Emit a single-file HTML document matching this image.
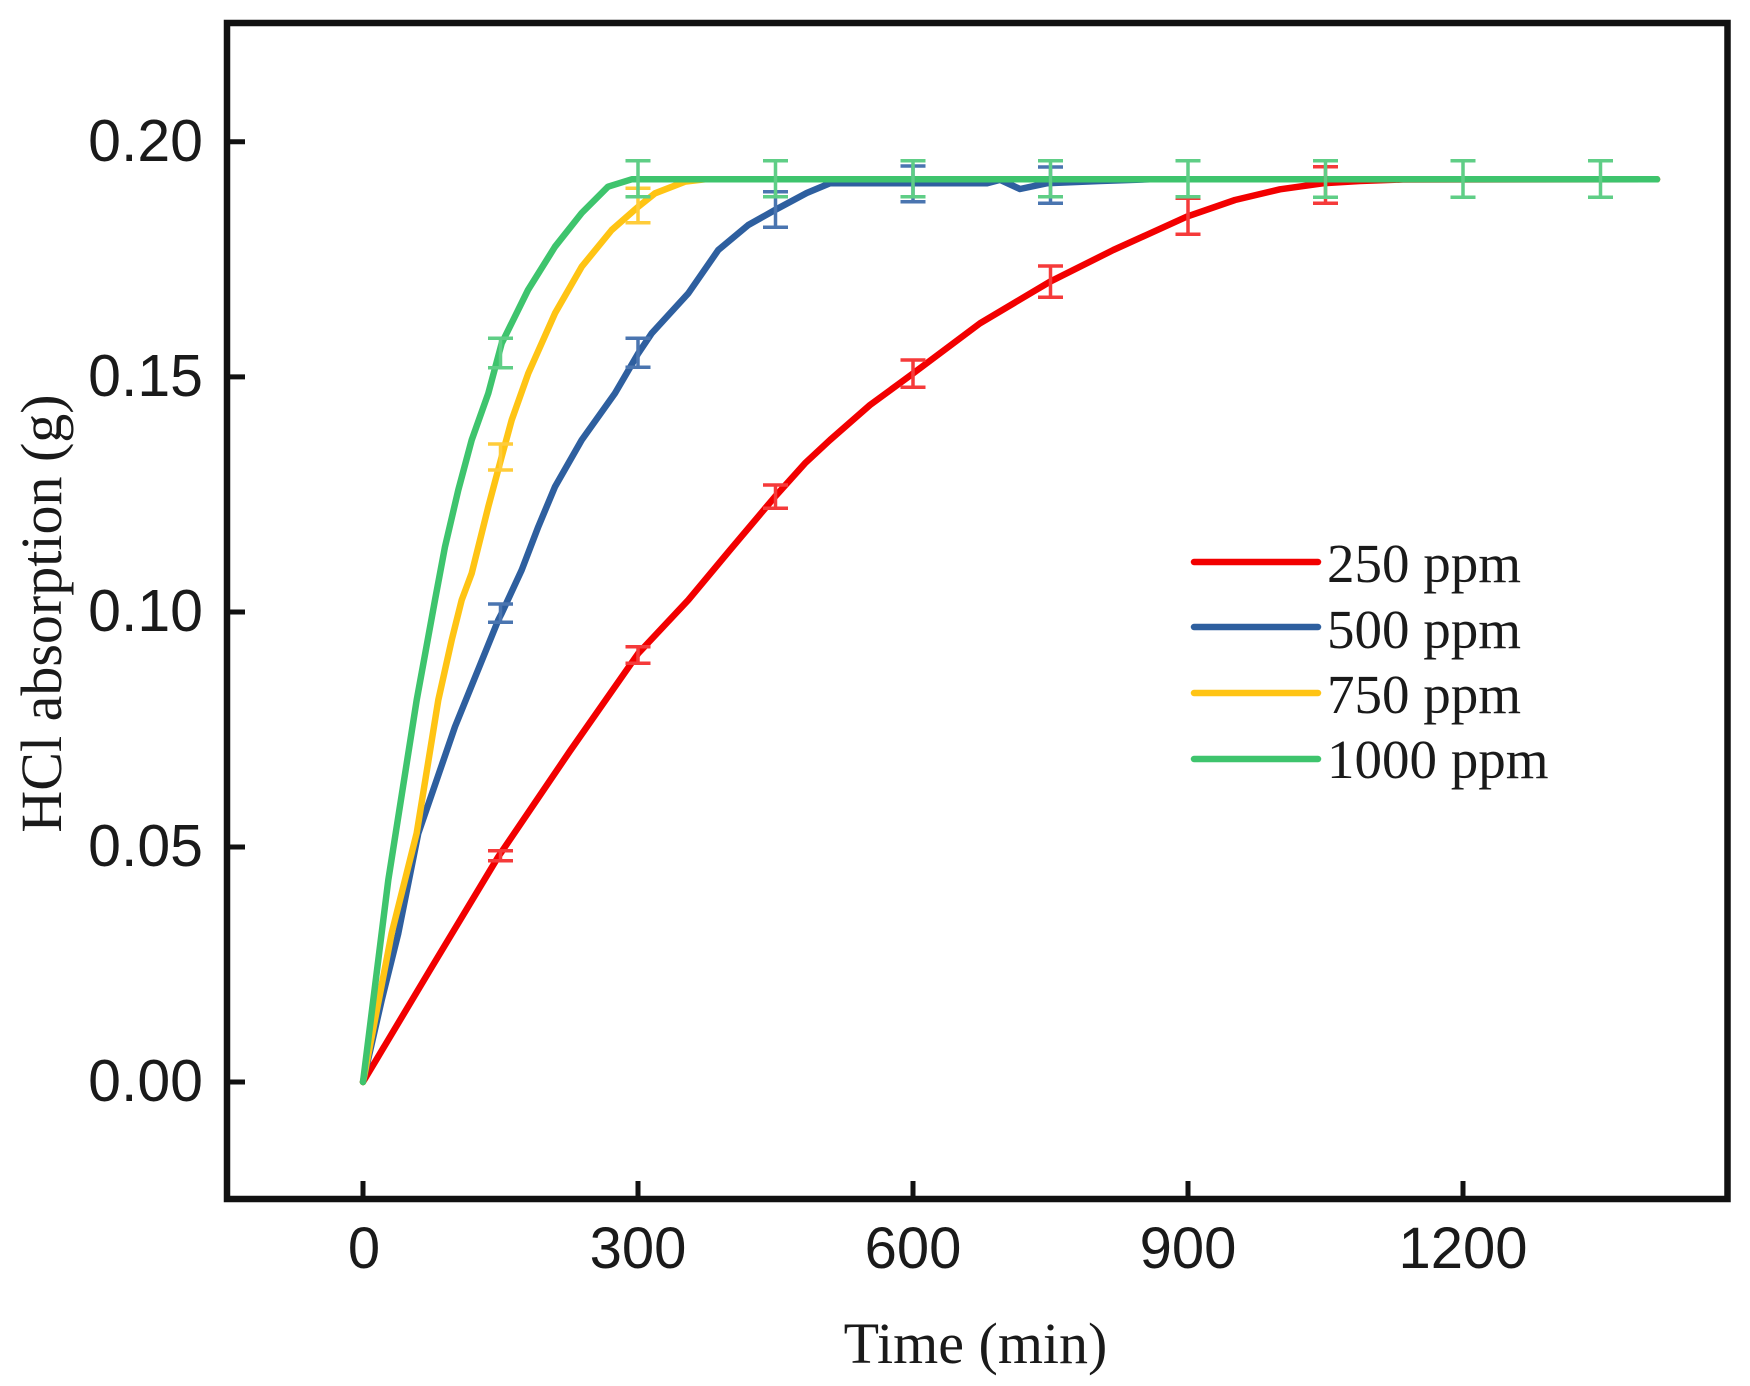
<!DOCTYPE html>
<html>
<head>
<meta charset="utf-8">
<style>
html,body{margin:0;padding:0;background:#fff;}
svg{display:block;}
</style>
</head>
<body>
<svg width="1750" height="1386" viewBox="0 0 1750 1386" xmlns="http://www.w3.org/2000/svg">
<rect x="0" y="0" width="1750" height="1386" fill="#fff"/>

<!-- curves -->
<g fill="none" stroke-width="6.5" stroke-linejoin="round" stroke-linecap="round">
  <polyline stroke="#f20000" points="363,1082 430,970 498.3,856.7 570,751 638.3,653.3 688.3,600 730,550 775,496.7 805,463.3 830,440 870,405 913.3,373.3 980,323.3 1050,281.7 1113.3,250 1186.7,216.7 1235,200 1280,189.3 1323,183.3 1360,181 1403,179.5 1657,179.3"/>
  <polyline stroke="#2e5f9f" points="363,1082 381.7,1000 398.3,933.3 418.3,833.3 455,726.7 498.3,620 501.7,613.3 521.7,570 538.3,526.7 555,486.7 581.7,440 615,393.3 638.3,353.3 651.7,333.3 688.3,293.3 718.3,250 748.3,225 775,210 806.7,193 830,183.3 986.7,183.3 1000,179.8 1020,189 1046.7,183.3 1100,181 1150,179.3 1657,179.3"/>
  <polyline stroke="#ffc414" points="363,1082 391.7,933 416.7,833 438.3,700 451.7,640 461.7,600 471.7,573.3 488.3,506.7 501.7,456.7 511.7,420 528.3,373.3 555,313.3 581.7,266.7 611.7,230 638.3,206.7 655,193.3 685,181.7 705,179.3 1657,179.3"/>
  <polyline stroke="#3ec46d" points="363,1082 388.3,880 416.7,700 435,600 445,546.7 458.3,490 471.7,440 488.3,393.3 501.7,343.3 528,290 555,246.7 581.7,213 608,186.7 631.7,179.3 1657,179.3"/>
</g>

<!-- error bars -->
<g fill="none" stroke-width="3.5">
  <g stroke="#f53a3a">
    <path d="M500.5,850.7V860.7M488,850.7H513M488,860.7H513"/>
    <path d="M638,646.7V663.3M625.5,646.7H650.5M625.5,663.3H650.5"/>
    <path d="M775.5,485V508.3M763,485H788M763,508.3H788"/>
    <path d="M913,360V387.3M900.5,360H925.5M900.5,387.3H925.5"/>
    <path d="M1050.5,266V297.3M1038,266H1063M1038,297.3H1063"/>
    <path d="M1188,198.3V234.3M1175.5,198.3H1200.5M1175.5,234.3H1200.5"/>
    <path d="M1325.5,166.7V203.3M1313,166.7H1338M1313,203.3H1338"/>
  </g>
  <g stroke="#4a75b0">
    <path d="M500.5,604V622.3M488,604H513M488,622.3H513"/>
    <path d="M638,338.3V367.3M625.5,338.3H650.5M625.5,367.3H650.5"/>
    <path d="M775.5,191.7V227.3M763,191.7H788M763,227.3H788"/>
    <path d="M913,166V201.7M900.5,166H925.5M900.5,201.7H925.5"/>
    <path d="M1050.5,167V203.3M1038,167H1063M1038,203.3H1063"/>
  </g>
  <g stroke="#ffcc3a">
    <path d="M500.5,444V470M488,444H513M488,470H513"/>
    <path d="M638,188.3V222.7M625.5,188.3H650.5M625.5,222.7H650.5"/>
  </g>
  <g stroke="#5fce86">
    <path d="M500.5,338.3V367.7M488,338.3H513M488,367.7H513"/>
    <path d="M638,160.7V196.7M625.5,160.7H650.5M625.5,196.7H650.5"/>
    <path d="M775.5,160.7V196.7M763,160.7H788M763,196.7H788"/>
    <path d="M913,160.7V196.7M900.5,160.7H925.5M900.5,196.7H925.5"/>
    <path d="M1050.5,160.7V196.7M1038,160.7H1063M1038,196.7H1063"/>
    <path d="M1188,160.7V196.7M1175.5,160.7H1200.5M1175.5,196.7H1200.5"/>
    <path d="M1325.5,160.7V197.3M1313,160.7H1338M1313,197.3H1338"/>
    <path d="M1463,160.7V197.3M1450.5,160.7H1475.5M1450.5,197.3H1475.5"/>
    <path d="M1600.5,160.7V197.3M1588,160.7H1613M1588,197.3H1613"/>
  </g>
</g>

<!-- axes box -->
<rect x="227" y="23" width="1500.5" height="1176" fill="none" stroke="#111" stroke-width="6.5"/>

<!-- ticks -->
<g stroke="#111" stroke-width="5">
  <path d="M227,141.7H245M227,376.9H245M227,612H245M227,847H245M227,1082H245"/>
  <path d="M363,1199V1181M638,1199V1181M913,1199V1181M1188,1199V1181M1463,1199V1181"/>
</g>

<!-- y tick labels -->
<g font-family="'Liberation Sans', Arial, sans-serif" font-size="59" fill="#1a1a1a" text-anchor="end">
  <text x="203" y="161">0.20</text>
  <text x="203" y="396">0.15</text>
  <text x="203" y="631">0.10</text>
  <text x="203" y="866">0.05</text>
  <text x="203" y="1101">0.00</text>
</g>

<!-- x tick labels -->
<g font-family="'Liberation Sans', Arial, sans-serif" font-size="58" fill="#1a1a1a" text-anchor="middle">
  <text x="364" y="1268">0</text>
  <text x="638" y="1268">300</text>
  <text x="913" y="1268">600</text>
  <text x="1188" y="1268">900</text>
  <text x="1463" y="1268">1200</text>
</g>

<!-- axis titles -->
<text x="975.5" y="1363" font-family="'Liberation Serif', 'Times New Roman', serif" font-size="58" fill="#1a1a1a" text-anchor="middle">Time (min)</text>
<text transform="translate(61,613.5) rotate(-90)" x="0" y="0" font-family="'Liberation Serif', 'Times New Roman', serif" font-size="58" fill="#1a1a1a" text-anchor="middle">HCl absorption (g)</text>

<!-- legend -->
<g stroke-width="6.5" stroke-linecap="round">
  <line x1="1194" y1="562" x2="1318" y2="562" stroke="#f20000"/>
  <line x1="1194" y1="627" x2="1318" y2="627" stroke="#2e5f9f"/>
  <line x1="1194" y1="693" x2="1318" y2="693" stroke="#ffc414"/>
  <line x1="1194" y1="759" x2="1318" y2="759" stroke="#3ec46d"/>
</g>
<g font-family="'Liberation Serif', 'Times New Roman', serif" font-size="55" fill="#1a1a1a">
  <text x="1327" y="582">250 ppm</text>
  <text x="1327" y="648">500 ppm</text>
  <text x="1327" y="713">750 ppm</text>
  <text x="1327" y="778">1000 ppm</text>
</g>
</svg>
</body>
</html>
